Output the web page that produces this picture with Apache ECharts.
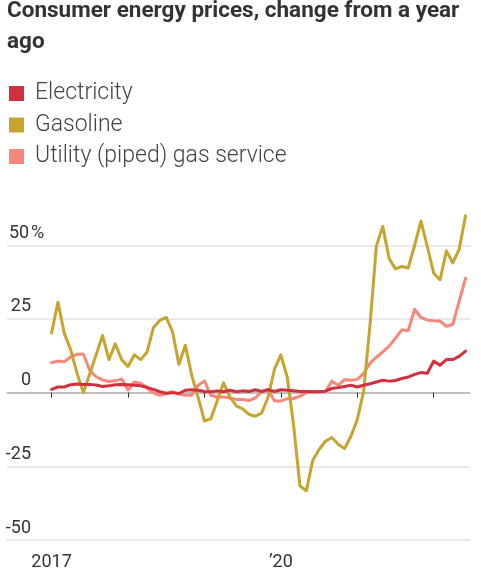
<!DOCTYPE html>
<html>
<head>
<meta charset="utf-8">
<script src="https://cdn.jsdelivr.net/npm/echarts@6/dist/echarts.min.js"></script>
<style>
html,body{margin:0;padding:0;background:#fff;}
#chart{width:481px;height:585px;}
</style>
</head>
<body>
<div id="chart"></div>
<script>
// Monthly, Jan 2017 (index 0) .. Jun 2022 (index 65), % change from a year ago
const electricity = [
  1.1, 1.9, 1.9, 2.7, 2.9, 2.8, 2.8, 2.6, 2.1, 2.3,
  2.7, 2.8, 2.7, 2.5, 2.3, 1.8, 1.1, 0.3, -0.2, 0.0,
  -0.3, 0.8, 1.0, 0.8, 0.4, 0.3, 0.6, 0.3, 0.8, 0.3,
  0.6, 0.4, 1.0, 0.4, 1.0, 0.4, 1.0, 0.8, 0.6, 0.4,
  0.4, 0.3, 0.3, 0.5, 1.4, 1.7, 2.1, 2.5, 1.9, 2.5,
  3.0, 3.6, 4.2, 3.9, 4.1, 4.8, 5.3, 6.2, 6.8, 6.6,
  10.7, 9.3, 11.2, 11.2, 12.3, 14.1
];
const gasoline = [
  20.2, 30.7, 20.1, 14.5, 6.5, 0.0, 6.4, 12.9, 19.4, 11.2,
  16.6, 11.2, 8.9, 12.8, 11.2, 13.8, 22.1, 24.5, 25.5, 20.6,
  9.6, 16.1, 5.9, -1.5, -9.6, -8.9, -2.8, 3.3, -1.5, -4.5,
  -5.5, -7.4, -8.0, -6.9, -1.5, 8.0, 12.8, 5.3, -11.0, -31.7,
  -33.3, -23.0, -19.3, -16.5, -15.2, -17.5, -19.0, -14.8, -9.2, 0.5,
  23.0, 49.8, 56.4, 45.5, 42.0, 42.8, 42.3, 50.0, 58.2, 49.5,
  40.5, 38.3, 48.1, 44.0, 48.6, 60.0
];
const utilityGas = [
  10.2, 10.7, 10.5, 12.1, 13.0, 13.0, 7.5, 5.4, 4.3, 3.8,
  4.0, 4.6, 0.9, 3.6, 3.2, 1.5, -0.1, -0.9, -0.3, 0.3,
  -0.5, -0.9, -0.9, 2.4, 4.0, -0.9, -1.5, -1.5, -1.8, -2.3,
  -2.3, -2.7, -1.8, 0.3, 1.0, -2.8, -2.8, -2.1, -2.0, -1.2,
  0.0, 0.4, 0.4, 0.4, 3.9, 2.5, 4.4, 4.2, 4.5, 6.5,
  10.0, 12.0, 13.8, 15.8, 18.5, 21.3, 21.0, 28.3, 25.5, 24.6,
  24.4, 24.3, 22.5, 23.2, 31.0, 38.8
];
const seriesNames = ['Electricity', 'Gasoline', 'Utility (piped) gas service'];
const xTickMonths = [0, 12, 24, 36, 48, 60];
const xLabelMonths = [0, 36];
const xLabelTexts = ['2017', '\u201920'];
const yTicks = [-50, -25, 0, 25, 50];

const colors = { 'Electricity': '#d3303e', 'Gasoline': '#c6a42f', 'Utility (piped) gas service': '#f7877a' };
const toPairs = arr => arr.map((v, i) => [i, v]);

const FONT = 'Roboto';
const chart = echarts.init(document.getElementById('chart'), null, { renderer: 'canvas' });

function lineSeries(name, data, z) {
  return {
    name: name, type: 'line', data: toPairs(data), showSymbol: false, symbol: 'none',
    lineStyle: { color: colors[name], width: 3, join: 'round', cap: 'round' },
    itemStyle: { color: colors[name] }, z: z, silent: true, animation: false
  };
}

chart.setOption({
  animation: false,
  backgroundColor: '#fff',
  title: {
    text: 'Consumer energy prices, change from a year\nago',
    left: 7, top: -4, padding: 0,
    textStyle: { fontFamily: FONT, fontWeight: 'bold', fontSize: 22.5, lineHeight: 31, color: '#333' }
  },
  legend: {
    orient: 'vertical', left: 9, top: 82, padding: 0,
    itemWidth: 15, itemHeight: 15, itemGap: 8.5, icon: 'rect',
    data: seriesNames,
    selectedMode: false,
    textStyle: { fontFamily: FONT, fontSize: 23, lineHeight: 20, color: '#444', fontWeight: 300, padding: [0, 0, 0, 6] }
  },
  grid: { left: 7, right: 11, top: 204, bottom: 45, containLabel: false },
  xAxis: {
    type: 'value', min: -7, max: 65.7,
    axisLine: { show: true, lineStyle: { color: '#ddd', width: 1.5 } },
    axisTick: { show: true, customValues: xTickMonths, length: 5, lineStyle: { color: '#333', width: 1 } },
    axisLabel: {
      customValues: xLabelMonths, margin: 13,
      formatter: v => xLabelTexts[xLabelMonths.indexOf(v)] || '',
      fontFamily: FONT, fontSize: 18, color: '#333'
    },
    splitLine: { show: false }
  },
  yAxis: {
    type: 'value', min: -50, max: 64, interval: 25,
    axisLine: { show: false }, axisTick: { show: false },
    axisLabel: {
      inside: true, margin: 0, showMaxLabel: false,
      verticalAlign: 'bottom', align: 'left',
      fontFamily: FONT, fontSize: 18, color: '#333',
      formatter: v => yTicks.indexOf(v) < 0 ? '' : (v === 50 ? '{n|' + v + '}{p|%}' : '{n|' + v + '}'),
      rich: {
        n: { fontFamily: FONT, fontSize: 18, color: '#333', width: 24, align: 'right', padding: [0, 0, 3, 0] },
        p: { fontFamily: FONT, fontSize: 18, color: '#333', padding: [0, 0, 3, 0] }
      }
    },
    splitLine: {
      show: true, showMaxLine: false,
      lineStyle: { color: ['#e2e2e2', '#e2e2e2', '#333', '#e2e2e2', '#e2e2e2'], width: 1.5 }
    }
  },
  series: [
    lineSeries('Utility (piped) gas service', utilityGas, 2),
    lineSeries('Gasoline', gasoline, 3),
    lineSeries('Electricity', electricity, 4)
  ]
});
</script>
</body>
</html>
